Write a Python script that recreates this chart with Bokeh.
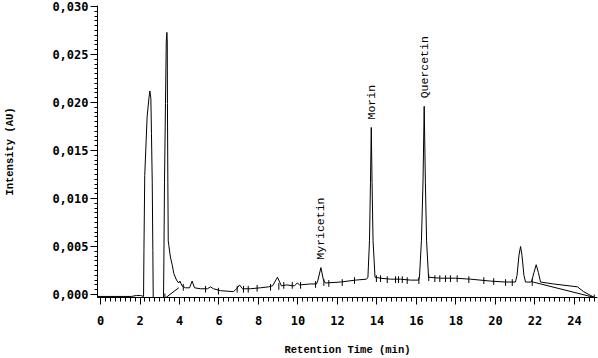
import numpy as np
from bokeh.plotting import figure
from bokeh.models import FixedTicker, Range1d
from bokeh.core.properties import value
from bokeh.embed import file_html
from bokeh.resources import INLINE

# ---- chromatogram trace (retention time in min, intensity in AU) ----
time_min = [-0.15, 1.57, 1.82, 2.03, 2.18, 2.20, 2.24, 2.36, 2.46, 2.50, 2.55, 2.58, 2.62, 2.65, 2.67,
            3.19, 3.21, 3.24, 3.29, 3.33, 3.36, 3.38, 3.39, 3.41, 3.43, 3.46, 3.54, 3.63, 3.71, 3.85,
            3.96, 4.02, 4.13, 4.30, 4.51, 4.64, 4.76, 5.06, 5.42, 5.57, 5.72, 6.08, 6.73, 6.89, 7.04,
            7.19, 7.59, 8.10, 8.51, 8.71, 8.96, 9.16, 9.42, 9.82, 9.96, 10.08, 10.63, 10.94, 11.01,
            11.16, 11.29, 11.39, 12.15, 12.91, 13.47, 13.54, 13.62, 13.67, 13.71, 13.75, 13.80, 13.90,
            14.18, 14.68, 15.19, 15.70, 16.10, 16.15, 16.25, 16.33, 16.39, 16.45, 16.51, 16.61, 17.22,
            17.97, 18.73, 19.75, 20.51, 21.01, 21.09, 21.19, 21.27, 21.34, 21.44, 21.52, 21.82, 21.95,
            22.06, 22.17, 22.28, 22.94, 24.15, 24.46, 25.0]
intensity_au = [-0.0002, -0.0002, -0.0001, -0.0001, -0.0002, 0.0046, 0.0124, 0.0185, 0.0206, 0.0212,
                0.0204, 0.0168, 0.0117, 0.0046, -0.0004, -0.0004, 0.0036, 0.0117, 0.0199, 0.0263,
                0.0273, 0.0263, 0.0199, 0.0117, 0.0056, 0.0051, 0.0039, 0.0031, 0.0022, 0.0015,
                0.0012, 0.0014, 0.0009, 0.0007, 0.0007, 0.0014, 0.0007, 0.0006, 0.0006, 0.0008,
                0.0006, 0.0004, 0.0003, 0.0006, 0.0010, 0.0006, 0.0006, 0.0007, 0.0008, 0.0009,
                0.0018, 0.0009, 0.0010, 0.0009, 0.0012, 0.0010, 0.0011, 0.0011, 0.0015, 0.0028,
                0.0015, 0.0012, 0.0013, 0.0015, 0.0016, 0.0018, 0.0056, 0.0117, 0.0174, 0.0117,
                0.0056, 0.0018, 0.0017, 0.0016, 0.0016, 0.0015, 0.0015, 0.0018, 0.0056, 0.0117,
                0.0196, 0.0117, 0.0056, 0.0018, 0.0017, 0.0017, 0.0016, 0.0014, 0.0013, 0.0013,
                0.0020, 0.0041, 0.0050, 0.0041, 0.0020, 0.0013, 0.0013, 0.0023, 0.0031, 0.0023,
                0.0013, 0.0011, 0.0008, 0.0003, -0.0003]

# ---- integration baselines drawn by the software ----
baseline_a_time = [3.26, 3.96]
baseline_a_au = [-0.0004, 0.0007]
baseline_b_time = [21.90, 25.0]
baseline_b_au = [0.0013, -0.0003]

# ---- peak start/end markers ----
marker_time = [3.26, 4.19, 5.32, 5.97, 6.92, 7.24, 7.48, 7.93, 8.61, 9.03, 9.28, 9.71, 10.13, 10.89,
               11.31, 11.56, 12.24, 12.86, 13.97, 14.18, 14.52, 14.94, 15.09, 15.28, 15.53, 16.12,
               16.62, 16.93, 17.18, 17.47, 17.72, 18.06, 18.65, 19.41, 19.91, 20.51, 20.85, 21.86, 25.0]
marker_au = [-0.0002, 0.0008, 0.0006, 0.0004, 0.0006, 0.0006, 0.0006, 0.0007, 0.0008, 0.0009, 0.0010,
             0.0010, 0.0010, 0.0011, 0.0013, 0.0012, 0.0013, 0.0015, 0.0017, 0.0017, 0.0016, 0.0016,
             0.0016, 0.0016, 0.0015, 0.0015, 0.0018, 0.0017, 0.0017, 0.0017, 0.0017, 0.0017, 0.0016,
             0.0015, 0.0014, 0.0013, 0.0013, 0.0013, -0.0003]

# ---- labelled peaks ----
peak_names = ["Myricetin", "Morin", "Quercetin"]
peak_time = [11.16, 13.71, 16.39]
peak_au = [0.0028, 0.0174, 0.0196]

# ---- axes ----
x_ticks = [0, 2, 4, 6, 8, 10, 12, 14, 16, 18, 20, 22, 24]
x_tick_labels = ["0", "2", "4", "6", "8", "10", "12", "14", "16", "18", "20", "22", "24"]
y_ticks = [0.0, 0.005, 0.010, 0.015, 0.020, 0.025, 0.030]
y_tick_labels = ["0,000", "0,005", "0,010", "0,015", "0,020", "0,025", "0,030"]

p = figure(width=598, height=358, output_backend="svg", toolbar_location=None,
           x_range=Range1d(-0.152, 25.165), y_range=Range1d(-0.00031, 0.0301),
           min_border_left=97, min_border_right=1, min_border_top=5, min_border_bottom=60)
p.outline_line_color = None
p.grid.visible = False
p.background_fill_color = "white"
p.border_fill_color = "white"

p.line(time_min, intensity_au, line_color="black", line_width=1)
p.line(baseline_a_time, baseline_a_au, line_color="black", line_width=1)
p.line(baseline_b_time, baseline_b_au, line_color="black", line_width=1)
m_lo = [v - 0.0004 for v in marker_au]
m_hi = [v + 0.0003 for v in marker_au]
p.segment(x0=marker_time, y0=m_lo, x1=marker_time, y1=m_hi, line_color="black", line_width=1)

p.text(x=peak_time, y=peak_au, text=peak_names, angle=np.pi / 2, text_align="left",
       text_baseline="middle", y_offset=-8, text_font=value("Liberation Mono"),
       text_font_size="11.5px", text_color="black")

p.xaxis.ticker = FixedTicker(ticks=x_ticks, minor_ticks=[round(v, 2) for v in np.arange(0, 25.01, 0.25)])
p.xaxis.major_label_overrides = dict(zip(x_ticks, x_tick_labels))
p.yaxis.ticker = FixedTicker(ticks=y_ticks, minor_ticks=[round(v, 4) for v in np.arange(0, 0.03001, 0.0005)])
p.yaxis.major_label_overrides = dict(zip(y_ticks, y_tick_labels))

for ax in (p.xaxis[0], p.yaxis[0]):
    ax.axis_line_color = "black"
    ax.axis_line_width = 1
    ax.major_tick_line_color = "black"
    ax.minor_tick_line_color = "black"
    ax.major_tick_in = 0
    ax.minor_tick_in = 0
    ax.major_label_text_font = "DejaVu Sans Mono"
    ax.major_label_text_font_style = "bold"
    ax.major_label_text_font_size = "12px"
    ax.major_label_text_color = "black"
    ax.axis_label_text_font = "Liberation Mono"
    ax.axis_label_text_font_style = "bold"
    ax.axis_label_text_font_size = "10.5px"
    ax.axis_label_text_color = "black"

p.yaxis.axis_label = "Intensity (AU)"
p.yaxis.major_tick_out = 7
p.yaxis.minor_tick_out = 3
p.yaxis.major_label_standoff = 2
p.yaxis.axis_label_standoff = 33

p.xaxis.axis_label = "Retention Time (min)"
p.xaxis.major_tick_out = 7
p.xaxis.minor_tick_out = 4
p.xaxis.major_label_standoff = 11
p.xaxis.axis_label_standoff = 16

open("out.html", "w").write(file_html(p, INLINE))
